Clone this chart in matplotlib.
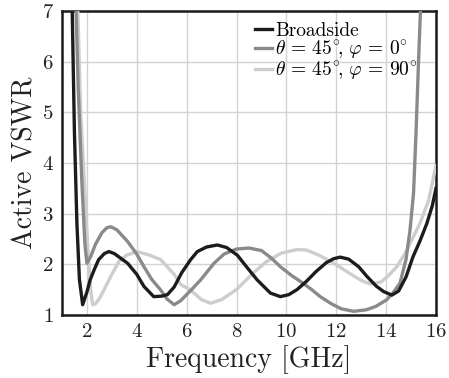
import matplotlib
matplotlib.use("Agg")
import matplotlib.pyplot as plt

plt.rcParams['font.family'] = 'serif'
plt.rcParams['font.serif'] = ['cmr10', 'DejaVu Serif']
plt.rcParams['mathtext.fontset'] = 'cm'
plt.rcParams['axes.formatter.use_mathtext'] = True

# Broadside
f_broad = [1.40, 1.50, 1.60, 1.70, 1.83, 2.00, 2.13, 2.30, 2.47, 2.70, 2.88, 3.10, 3.63, 4.00, 4.29,
           4.68, 5.00, 5.23, 5.50, 5.80, 6.16, 6.43, 6.80, 7.23, 7.60, 8.03, 8.40, 8.83, 9.36,
           9.76, 10.10, 10.43, 10.80, 11.20, 11.60, 11.90, 12.16, 12.50, 12.90, 13.23, 13.60,
           13.90, 14.23, 14.50, 14.80, 15.08, 15.35, 15.63, 15.85, 16.00]
v_broad = [7.30, 4.60, 2.80, 1.70, 1.20, 1.45, 1.69, 1.90, 2.09, 2.21, 2.25, 2.21, 2.02, 1.80, 1.56,
           1.36, 1.37, 1.40, 1.55, 1.83, 2.09, 2.25, 2.34, 2.38, 2.33, 2.18, 1.95, 1.69, 1.43,
           1.36, 1.40, 1.50, 1.66, 1.86, 2.03, 2.11, 2.14, 2.10, 1.95, 1.76, 1.57,
           1.46, 1.39, 1.47, 1.75, 2.15, 2.45, 2.80, 3.15, 3.50]

# theta = 45, phi = 0
f_phi0 = [1.55, 1.65, 1.80, 1.92, 2.00, 2.15, 2.35, 2.60, 2.80, 2.96, 3.20, 3.63, 4.00, 4.29,
          4.60, 4.96, 5.20, 5.50, 5.76, 6.20, 6.56, 7.10, 7.50, 8.00, 8.50, 9.00, 9.40, 9.76,
          10.20, 10.56, 10.96, 11.36, 11.80, 12.20, 12.70, 13.20, 13.60, 14.03, 14.30, 14.56,
          14.80, 14.96, 15.10, 15.20, 15.30, 15.40]
v_phi0 = [7.30, 5.50, 3.60, 2.40, 2.02, 2.15, 2.40, 2.62, 2.72, 2.74, 2.68, 2.45, 2.20, 1.95,
          1.70, 1.49, 1.32, 1.20, 1.28, 1.50, 1.69, 2.02, 2.20, 2.30, 2.32, 2.27, 2.12, 1.95,
          1.78, 1.66, 1.52, 1.36, 1.22, 1.12, 1.07, 1.10, 1.17, 1.30, 1.45, 1.63,
          2.10, 2.68, 3.40, 4.60, 6.00, 7.30]

# theta = 45, phi = 90
f_phi90 = [1.62, 1.75, 1.90, 2.05, 2.15, 2.23, 2.35, 2.50, 2.68, 3.00, 3.28, 3.60, 4.03, 4.50,
           4.96, 5.50, 5.76, 6.16, 6.60, 6.96, 7.40, 8.00, 8.68, 9.20, 9.80, 10.43, 10.80,
           11.30, 11.90, 12.60, 13.00, 13.36, 13.80, 14.10, 14.43, 14.80, 15.10, 15.36, 15.70,
           16.00]
v_phi90 = [7.30, 5.00, 3.60, 2.20, 1.50, 1.20, 1.22, 1.32, 1.49, 1.80, 2.05, 2.18, 2.25, 2.18,
           2.09, 1.80, 1.60, 1.49, 1.30, 1.23, 1.30, 1.50, 1.83, 2.05, 2.22, 2.29, 2.28,
           2.18, 2.02, 1.80, 1.68, 1.61, 1.65, 1.78, 1.95, 2.25, 2.55, 2.81, 3.25,
           3.95]

labels = ['Broadside', r'$\theta\,=\,45^{\circ}\!,\,\varphi\,=\,0^{\circ}$',
          r'$\theta\,=\,45^{\circ}\!,\,\varphi\,=\,90^{\circ}$']
xticks = [2, 4, 6, 8, 10, 12, 14, 16]
yticks = [1, 2, 3, 4, 5, 6, 7]

fig = plt.figure(figsize=(4.49, 3.78), dpi=100)
ax = fig.add_axes([0.138, 0.167, 0.833, 0.804])

ax.plot(f_broad, v_broad, color='#1c1c1c', lw=2.4, label=labels[0], zorder=5)
ax.plot(f_phi0, v_phi0, color='#8a8a8a', lw=2.4, label=labels[1], zorder=4)
ax.plot(f_phi90, v_phi90, color='#cdcdcd', lw=2.4, label=labels[2], zorder=3)

ax.set_xlim(1, 16)
ax.set_ylim(1, 7)
ax.set_xticks(xticks)
ax.set_yticks(yticks)
ax.grid(True, color='#d2d2d2', lw=1.0)
ax.set_axisbelow(True)
ax.tick_params(length=0, labelsize=15, pad=6, colors='#222222')
for s in ax.spines.values():
    s.set_linewidth(1.8)
    s.set_color('#1a1a1a')

ax.set_xlabel('Frequency [GHz]', fontsize=20, color='#222222', labelpad=3)
ax.set_ylabel('Active VSWR', fontsize=20, color='#222222', labelpad=2)

leg = ax.legend(loc='upper left', bbox_to_anchor=(0.515, 0.965), frameon=False, fontsize=14,
                handlelength=0.9, handletextpad=0.15, labelspacing=-0.05, borderpad=0.0,
                borderaxespad=0.0)

fig.savefig('out.png', dpi=100)
